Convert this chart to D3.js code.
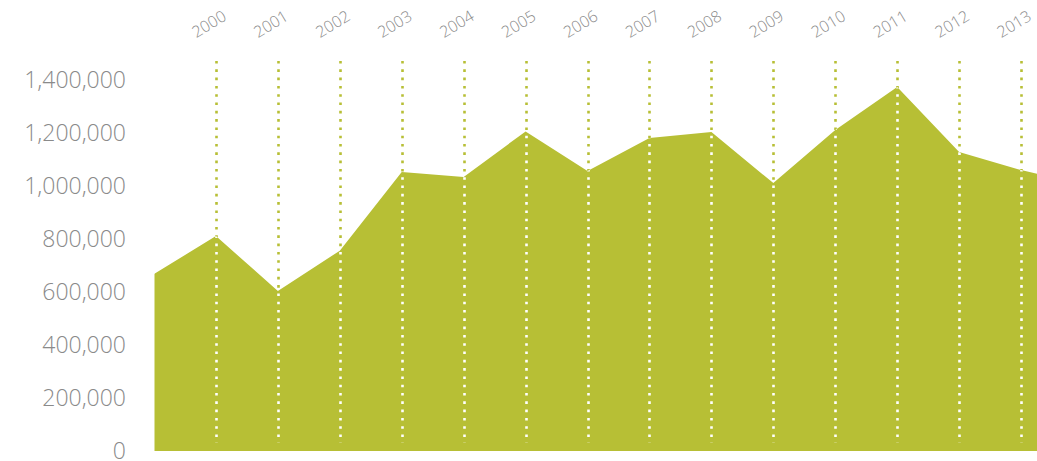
<!DOCTYPE html>
<html>
<head>
<meta charset="utf-8">
<script src="https://cdn.jsdelivr.net/npm/d3@7"></script>
<style>
  html, body { margin: 0; padding: 0; background: #fff; }
  svg { display: block; }
  text { font-family: "Open Sans", sans-serif; font-weight: 300; fill: #8a8a8a; }
</style>
</head>
<body>
<svg id="chart" width="1037" height="461"></svg>
<script>
// Data
const years = [1999, 2000, 2001, 2002, 2003, 2004, 2005, 2006, 2007, 2008, 2009, 2010, 2011, 2012, 2013, 2014];
const values = [668000, 811000, 604000, 756000, 1053000, 1034000, 1206000, 1057000, 1181000, 1204000, 1011000, 1211000, 1374000, 1128000, 1060000, 1005000];
const tickYears = [2000, 2001, 2002, 2003, 2004, 2005, 2006, 2007, 2008, 2009, 2010, 2011, 2012, 2013];
const yTicks = [0, 200000, 400000, 600000, 800000, 1000000, 1200000, 1400000];

const W = 1037, H = 461;
const green = "#b7bf35";
const svg = d3.select("#chart");

const x = d3.scaleLinear().domain([1999, 2014]).range([154, 1083]);
const y = d3.scaleLinear().domain([0, 1400000]).range([451, 80]);

const data = years.map((yr, i) => ({ yr, v: values[i] }));

const plotLeft = 154.5;
// clip to visible plot
svg.append("defs").append("clipPath").attr("id", "plotclip")
  .append("rect").attr("x", plotLeft).attr("y", 0).attr("width", W - plotLeft).attr("height", H);

const area = d3.area().x(d => x(d.yr)).y0(y(0)).y1(d => y(d.v));
const areaPath = area(data);

svg.select("defs").append("clipPath").attr("id", "areaclip")
  .append("path").attr("d", areaPath);

const lineTop = 61, lineBottom = 443;

// green dotted guide lines (full height)
svg.append("g").selectAll("line").data(tickYears).join("line")
  .attr("x1", d => Math.round(x(d)) + 0.5).attr("x2", d => Math.round(x(d)) + 0.5)
  .attr("y1", lineTop).attr("y2", lineBottom)
  .attr("stroke", green).attr("stroke-width", 2.6)
  .attr("stroke-dasharray", "2.6 5.7");

// area
svg.append("path").attr("d", areaPath).attr("fill", green).attr("clip-path", "url(#plotclip)");

// white dotted guide lines inside area
svg.append("g").attr("clip-path", "url(#areaclip)")
  .selectAll("line").data(tickYears).join("line")
  .attr("x1", d => Math.round(x(d)) + 0.5).attr("x2", d => Math.round(x(d)) + 0.5)
  .attr("y1", lineTop).attr("y2", lineBottom)
  .attr("stroke", "#fff").attr("stroke-width", 2.6)
  .attr("stroke-dasharray", "2.6 5.7");

// y axis labels
const fmt = d3.format(",");
svg.append("g").selectAll("text").data(yTicks).join("text")
  .attr("x", 126).attr("y", d => y(d))
  .attr("dy", "0.33em")
  .attr("text-anchor", "end")
  .style("font-size", "23px")
  .text(d => fmt(d));

// x (year) labels, rotated
svg.append("g").selectAll("text").data(tickYears).join("text")
  .attr("transform", d => `translate(${x(d) - 7},${24}) rotate(-31)`)
  .attr("text-anchor", "middle")
  .attr("dy", "0.35em")
  .style("font-size", "16px")
  .text(d => d);
</script>
</body>
</html>
